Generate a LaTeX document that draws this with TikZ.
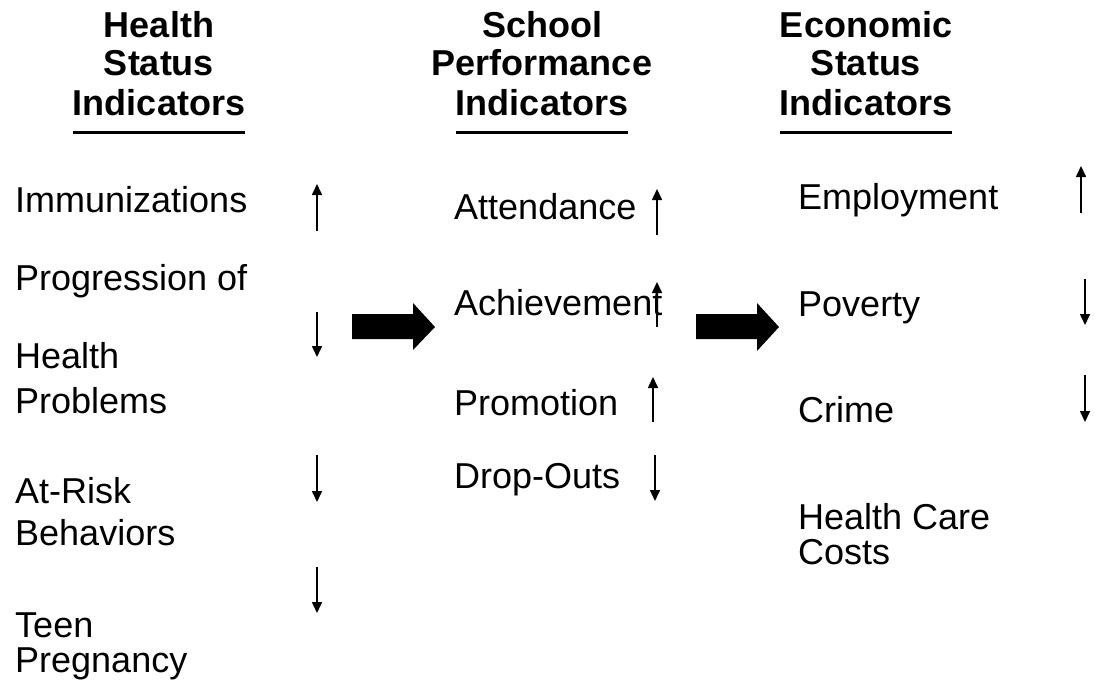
\documentclass[tikz,border=0pt]{standalone}
\usepackage{fontspec}
\setmainfont{Liberation Sans}
\usetikzlibrary{arrows.meta}
\begin{document}
\begin{tikzpicture}[x=1pt,y=-1pt,
  heading/.style={font=\fontsize{36}{40}\selectfont\bfseries, inner sep=0pt, anchor=base},
  item/.style={font=\fontsize{36}{40}\selectfont, inner sep=0pt, anchor=base west},
  trend/.style={line width=1.6pt, -{Triangle[width=10pt,length=11pt]}},
  ul/.style={line width=3pt},
  bigarrow/.style={fill=black, draw=none}]
\useasboundingbox (0,0) rectangle (1095,688);

% column headings
\node[heading] (h1a) at (159,37) {Health};
\node[heading] (h1b) at (159,75) {Status};
\node[heading] (h1c) at (159,115) {Indicators};
\node[heading] (h2a) at (542,37) {School};
\node[heading] (h2b) at (542,75) {Performance};
\node[heading] (h2c) at (542,115) {Indicators};
\node[heading] (h3a) at (866,37) {Economic};
\node[heading] (h3b) at (866,75) {Status};
\node[heading] (h3c) at (866,115) {Indicators};
\foreach \n in {h1c,h2c,h3c}
  \draw[ul] ([yshift=-17pt]\n.base west) -- ([yshift=-17pt]\n.base east);

% health status indicators
\node[item] (imm) at (15,212) {Immunizations};
\node[item] (prog1) at (15,290) {Progression of};
\node[item] (prog2) at (15,368) {Health};
\node[item] (prog3) at (15,413) {Problems};
\node[item] (risk1) at (15,503) {At-Risk};
\node[item] (risk2) at (15,545) {Behaviors};
\node[item] (teen1) at (15,637) {Teen};
\node[item] (teen2) at (15,672) {Pregnancy};
\draw[trend] (317,231) -- (317,184);
\draw[trend] (317,312) -- (317,357);
\draw[trend] (317,455) -- (317,502);
\draw[trend] (317,567) -- (317,613);

% school performance indicators
\node[item] (att) at (454,219) {Attendance};
\node[item] (ach) at (454,315) {Achievement};
\node[item] (pro) at (454,415) {Promotion};
\node[item] (drop) at (454,488) {Drop-Outs};
\draw[trend] (657,235) -- (657,189);
\draw[trend] (657,327) -- (657,282);
\draw[trend] (653,422) -- (653,377);
\draw[trend] (655,455) -- (655,501);

% economic status indicators
\node[item] (emp) at (798,209) {Employment};
\node[item] (pov) at (798,316) {Poverty};
\node[item] (crime) at (798,422) {Crime};
\node[item] (hcc1) at (798,529) {Health Care};
\node[item] (hcc2) at (798,564) {Costs};
\draw[trend] (1081,213) -- (1081,166);
\draw[trend] (1085,279) -- (1085,325);
\draw[trend] (1085,375) -- (1085,422);

% block arrows between the columns
\fill[bigarrow] (352,314) -- (413,314) -- (413,303) -- (435,327) -- (413,350) -- (413,339) -- (352,339) -- cycle;
\fill[bigarrow] (696,314) -- (757,314) -- (757,303) -- (779,327) -- (757,351) -- (757,339) -- (696,339) -- cycle;
\end{tikzpicture}
\end{document}
